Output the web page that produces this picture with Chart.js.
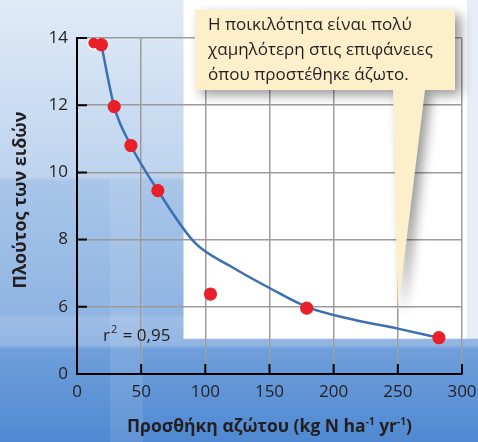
<!DOCTYPE html>
<html>
<head>
<meta charset="utf-8">
<script src="https://cdn.jsdelivr.net/npm/chart.js@4.4.1/dist/chart.umd.min.js"></script>
<style>
  html, body { margin: 0; padding: 0; background: #fff; }
</style>
</head>
<body>
<canvas id="chart" width="478" height="442"></canvas>
<script>
// measured points
const nitrogenAdded   = [13, 19, 29, 42, 63, 104, 179, 282];
const speciesRichness = [13.85, 13.8, 11.96, 10.8, 9.46, 6.38, 5.96, 5.08];

// fitted curve
const fitX = [19, 29, 42, 63, 92, 120, 150, 179, 215, 250, 282];
const fitY = [13.8, 11.96, 10.8, 9.46, 7.9, 7.2, 6.56, 6.0, 5.62, 5.35, 5.08];

// broken y axis: the lowest tick is labelled 0
const yTickValues = [4, 6, 8, 10, 12, 14];
const yTickLabels = ['0', '6', '8', '10', '12', '14'];
const xTickValues = [0, 50, 100, 150, 200, 250, 300];

const calloutLines = [
  'Η ποικιλότητα είναι πολύ',
  'χαμηλότερη στις επιφάνειες',
  'όπου προστέθηκε άζωτο.'
];
const rSquared = '0,95';

const FONT = '"Open Sans", "Noto Sans", sans-serif';
const TEXT = '#231f20';

const decor = {
  id: 'decor',
  beforeDraw(chart) {
    const { ctx, width, height, scales: { x, y } } = chart;
    ctx.save();
    const g = ctx.createLinearGradient(0, 0, 0, height);
    g.addColorStop(0, '#e0ebf7');
    g.addColorStop(0.40, '#bdd3ee');
    g.addColorStop(0.41, '#a9c6e8');
    g.addColorStop(0.71, '#8fb4e3');
    g.addColorStop(0.72, '#9dbde6');
    g.addColorStop(0.78, '#92b5e3');
    g.addColorStop(0.79, '#6f9fdb');
    g.addColorStop(1, '#5089d2');
    ctx.fillStyle = g;
    ctx.fillRect(0, 0, width, height);

    // faint lighter band
    ctx.fillStyle = 'rgba(255,255,255,0.10)';
    ctx.fillRect(110, 180, 33, height - 180);

    const wb = y.getPixelForValue(5.05);
    ctx.fillStyle = '#e8eef7';
    ctx.fillRect(x.right, 0, width - x.right, wb);
    const wl = x.getPixelForValue(83);
    ctx.fillStyle = '#ffffff';
    ctx.fillRect(wl, 0, x.right + 5 - wl, wb);
    ctx.restore();
  },
  afterDraw(chart) {
    const { ctx, scales: { x, y } } = chart;
    ctx.save();

    // inner tick marks
    ctx.strokeStyle = '#000';
    ctx.lineWidth = 2;
    ctx.beginPath();
    yTickValues.slice(1).forEach(v => {
      const py = y.getPixelForValue(v);
      ctx.moveTo(x.left, py);
      ctx.lineTo(x.left + 10, py);
    });
    xTickValues.slice(1).forEach(v => {
      const px = x.getPixelForValue(v);
      ctx.moveTo(px, y.bottom);
      ctx.lineTo(px, y.bottom - 10);
    });
    ctx.stroke();

    // r^2 label
    ctx.fillStyle = TEXT;
    ctx.textBaseline = 'alphabetic';
    ctx.textAlign = 'left';
    ctx.font = '17px ' + FONT;
    let tx = 103, ty = 341;
    ctx.fillText('r', tx, ty);
    tx += ctx.measureText('r').width + 1;
    ctx.font = '11px ' + FONT;
    ctx.fillText('2', tx, ty - 8);
    tx += ctx.measureText('2').width + 1;
    ctx.font = '17px ' + FONT;
    ctx.fillText(' = ' + rSquared, tx, ty);

    // x title with superscripts
    const parts = [
      ['Προσθήκη αζώτου (kg N ha', false],
      ['-1', true],
      [' yr', false],
      ['-1', true],
      [')', false]
    ];
    const big = 'bold 17.5px ' + FONT, small = 'bold 10px ' + FONT;
    let total = 0;
    parts.forEach(([t, sup]) => { ctx.font = sup ? small : big; total += ctx.measureText(t).width; });
    let cx = (x.left + x.right) / 2 - total / 2;
    parts.forEach(([t, sup]) => {
      ctx.font = sup ? small : big;
      ctx.fillText(t, cx, sup ? 425 : 432);
      cx += ctx.measureText(t).width;
    });

    // y title
    ctx.save();
    ctx.translate(21, 200);
    ctx.rotate(-Math.PI / 2);
    ctx.font = 'bold 18px ' + FONT;
    ctx.textAlign = 'center';
    ctx.textBaseline = 'middle';
    ctx.fillText('Πλούτος των ειδών', 0, 0);
    ctx.restore();

    // callout
    const bx = 195, by = 10, bw = 260, bh = 80;
    const tipX = x.getPixelForValue(250), tipY = y.getPixelForValue(5.9);
    ctx.save();
    ctx.shadowColor = 'rgba(0,0,0,0.4)';
    ctx.shadowBlur = 12;
    ctx.shadowOffsetX = 6;
    ctx.shadowOffsetY = 5;
    ctx.fillStyle = '#fcefca';
    ctx.beginPath();
    ctx.moveTo(bx, by);
    ctx.lineTo(bx + bw, by);
    ctx.lineTo(bx + bw, by + bh);
    ctx.lineTo(425, by + bh);
    ctx.lineTo(tipX, tipY);
    ctx.lineTo(393, by + bh);
    ctx.lineTo(bx, by + bh);
    ctx.closePath();
    ctx.fill();
    ctx.restore();

    ctx.fillStyle = TEXT;
    ctx.font = '17px ' + FONT;
    ctx.textAlign = 'left';
    ctx.textBaseline = 'middle';
    calloutLines.forEach((line, i) => ctx.fillText(line, 208, 25 + i * 25));

    ctx.restore();
  }
};

new Chart(document.getElementById('chart'), {
  type: 'scatter',
  data: {
    datasets: [
      {
        data: nitrogenAdded.map((v, i) => ({ x: v, y: speciesRichness[i] })),
        backgroundColor: '#e8202a',
        pointBorderColor: nitrogenAdded.map((v, i) => i === 0 ? '#ffffff' : '#e8202a'),
        pointBorderWidth: 1.2,
        pointRadius: 6
      },
      {
        data: fitX.map((v, i) => ({ x: v, y: fitY[i] })),
        showLine: true,
        borderColor: '#3b70b3',
        borderWidth: 2.5,
        pointRadius: 0,
        cubicInterpolationMode: 'monotone',
        fill: false
      }
    ]
  },
  options: {
    responsive: false,
    animation: false,
    devicePixelRatio: 1,
    layout: { padding: { top: 38, right: 16, left: 0, bottom: 0 } },
    plugins: { legend: { display: false }, tooltip: { enabled: false } },
    scales: {
      x: {
        type: 'linear',
        min: 0, max: 300,
        afterBuildTicks: s => { s.ticks = xTickValues.map(v => ({ value: v })); },
        afterFit: s => { s.height = 68; s.paddingLeft = 0; s.paddingRight = 0; },
        ticks: { color: TEXT, font: { family: FONT, size: 17 }, padding: 8, maxRotation: 0 },
        grid: {
          drawTicks: false,
          color: c => c.tick && c.tick.value === 0 ? 'rgba(0,0,0,0)' : '#9c9c9c',
          lineWidth: 1.5
        },
        border: { color: '#000', width: 2 }
      },
      y: {
        type: 'linear',
        min: 4, max: 14,
        afterBuildTicks: s => { s.ticks = yTickValues.map(v => ({ value: v })); },
        afterFit: s => { s.width = 77; s.paddingTop = 0; s.paddingBottom = 0; },
        ticks: {
          color: TEXT, font: { family: FONT, size: 17 }, padding: 9,
          callback: v => yTickLabels[yTickValues.indexOf(v)]
        },
        grid: {
          drawTicks: false,
          color: c => c.tick && c.tick.value === 4 ? 'rgba(0,0,0,0)' : '#9c9c9c',
          lineWidth: 1.5
        },
        border: { color: '#000', width: 2 }
      }
    }
  },
  plugins: [decor]
});
</script>
</body>
</html>
